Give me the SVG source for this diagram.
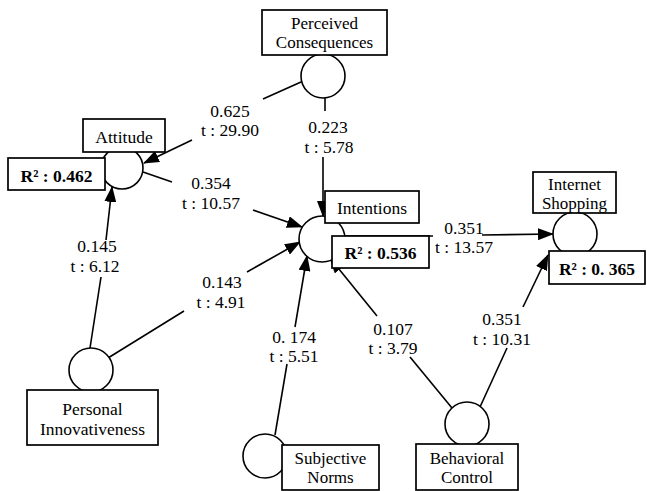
<svg xmlns="http://www.w3.org/2000/svg" width="647" height="491" viewBox="0 0 647 491">
<style>
  .bg { fill: #ffffff; }
  .box { fill: #ffffff; stroke: #000000; stroke-width: 1.7; }
  .lv { fill: #ffffff; stroke: #000000; stroke-width: 1.6; }
  .ln { stroke: #000000; stroke-width: 1.6; fill: none; }
  .t { font-family: "Liberation Serif", "Times New Roman", "DejaVu Serif", serif; font-size: 17.5px; fill: #000000; text-anchor: middle; }
  .n2 { font-size: 17px; }
  .r2 { font-family: "Liberation Serif", "Times New Roman", "DejaVu Serif", serif; font-size: 17.5px; font-weight: bold; fill: #000000; text-anchor: middle; }
</style>
<defs>
  <marker id="ah" markerWidth="16" markerHeight="12" refX="15" refY="6" orient="auto" markerUnits="userSpaceOnUse">
    <path d="M0,0 L16,6 L0,12 z" fill="#000000"/>
  </marker>
</defs>
<rect class="bg" x="0" y="0" width="647" height="491"/>

<g id="connectors">
  <!-- Perceived Consequences -> Attitude -->
  <line class="ln" x1="301" y1="82" x2="263" y2="99"/>
  <line class="ln" x1="192" y1="140" x2="144" y2="163" marker-end="url(#ah)"/>
  <text class="t" x="230" y="117">0.625</text>
  <text class="t" x="230" y="136">t : 29.90</text>
  <!-- Perceived Consequences -> Intentions -->
  <line class="ln" x1="325" y1="98" x2="325" y2="111"/>
  <line class="ln" x1="323" y1="157" x2="323" y2="216" marker-end="url(#ah)"/>
  <text class="t" x="328" y="133">0.223</text>
  <text class="t" x="329" y="153">t : 5.78</text>
  <!-- Attitude -> Intentions -->
  <line class="ln" x1="143" y1="172" x2="172" y2="182"/>
  <line class="ln" x1="253" y1="210" x2="302" y2="227" marker-end="url(#ah)"/>
  <text class="t" x="211" y="189">0.354</text>
  <text class="t" x="211" y="209">t : 10.57</text>
  <!-- Personal Innovativeness -> Attitude -->
  <line class="ln" x1="90" y1="348" x2="101" y2="277"/>
  <line class="ln" x1="106" y1="240" x2="112" y2="187" marker-end="url(#ah)"/>
  <text class="t" x="97" y="252">0.145</text>
  <text class="t" x="95" y="272">t : 6.12</text>
  <!-- Personal Innovativeness -> Intentions -->
  <line class="ln" x1="108" y1="358" x2="184" y2="311"/>
  <line class="ln" x1="247" y1="272" x2="300" y2="242" marker-end="url(#ah)"/>
  <text class="t" x="222" y="288">0.143</text>
  <text class="t" x="221" y="308">t : 4.91</text>
  <!-- Subjective Norms -> Intentions -->
  <line class="ln" x1="275" y1="435" x2="287" y2="364"/>
  <line class="ln" x1="295" y1="327" x2="307" y2="256" marker-end="url(#ah)"/>
  <text class="t" x="294" y="343">0. 174</text>
  <text class="t" x="294" y="362">t : 5.51</text>
  <!-- Behavioral Control -> Intentions -->
  <line class="ln" x1="452" y1="408" x2="410" y2="357"/>
  <line class="ln" x1="377" y1="316" x2="330" y2="258" marker-end="url(#ah)"/>
  <text class="t" x="393" y="335">0.107</text>
  <text class="t" x="393" y="354">t : 3.79</text>
  <!-- Behavioral Control -> Internet Shopping -->
  <line class="ln" x1="480" y1="407" x2="507" y2="348"/>
  <line class="ln" x1="523" y1="307" x2="548" y2="255" marker-end="url(#ah)"/>
  <text class="t" x="502" y="325">0.351</text>
  <text class="t" x="502" y="345">t : 10.31</text>
  <!-- Intentions -> Internet Shopping -->
  <line class="ln" x1="344" y1="236" x2="433" y2="236"/>
  <line class="ln" x1="482" y1="235" x2="553" y2="234" marker-end="url(#ah)"/>
  <text class="t" x="464" y="234">0.351</text>
  <text class="t" x="464" y="253">t : 13.57</text>
</g>

<g id="perceived-consequences">
  <circle class="lv" cx="323" cy="76" r="22"/>
  <rect class="box" x="262" y="10" width="125" height="45"/>
  <text class="t n2" x="324.5" y="29">Perceived</text>
  <text class="t n2" x="324.5" y="48">Consequences</text>
</g>

<g id="attitude">
  <circle class="lv" cx="122" cy="168" r="21"/>
  <rect class="box" x="83" y="119" width="82" height="33"/>
  <text class="t" x="124" y="143">Attitude</text>
  <rect class="box" x="8" y="158" width="97" height="32"/>
  <text class="r2" x="56.5" y="182">R² : 0.462</text>
</g>

<g id="intentions">
  <circle class="lv" cx="322" cy="239" r="23"/>
  <rect class="box" x="325" y="191" width="94" height="32"/>
  <text class="t" x="372" y="214">Intentions</text>
  <rect class="box" x="332" y="236" width="97" height="32"/>
  <text class="r2" x="380.5" y="259">R² : 0.536</text>
</g>

<g id="internet-shopping">
  <circle class="lv" cx="575" cy="234" r="22"/>
  <rect class="box" x="533" y="172" width="83" height="41"/>
  <text class="t n2" x="574.5" y="190">Internet</text>
  <text class="t n2" x="574.5" y="209">Shopping</text>
  <rect class="box" x="549" y="251" width="96" height="33"/>
  <text class="r2" x="597" y="275">R² : 0. 365</text>
</g>

<g id="personal-innovativeness">
  <circle class="lv" cx="91" cy="370" r="22"/>
  <rect class="box" x="27" y="390" width="131" height="55"/>
  <text class="t" x="92.5" y="415">Personal</text>
  <text class="t" x="92.5" y="435">Innovativeness</text>
</g>

<g id="subjective-norms">
  <circle class="lv" cx="265" cy="456" r="22"/>
  <rect class="box" x="282" y="445" width="97" height="45"/>
  <text class="t n2" x="330.5" y="464">Subjective</text>
  <text class="t n2" x="330.5" y="483">Norms</text>
</g>

<g id="behavioral-control">
  <circle class="lv" cx="467" cy="424" r="22"/>
  <rect class="box" x="416" y="444" width="102" height="46"/>
  <text class="t n2" x="467" y="464">Behavioral</text>
  <text class="t n2" x="467" y="483">Control</text>
</g>
</svg>
